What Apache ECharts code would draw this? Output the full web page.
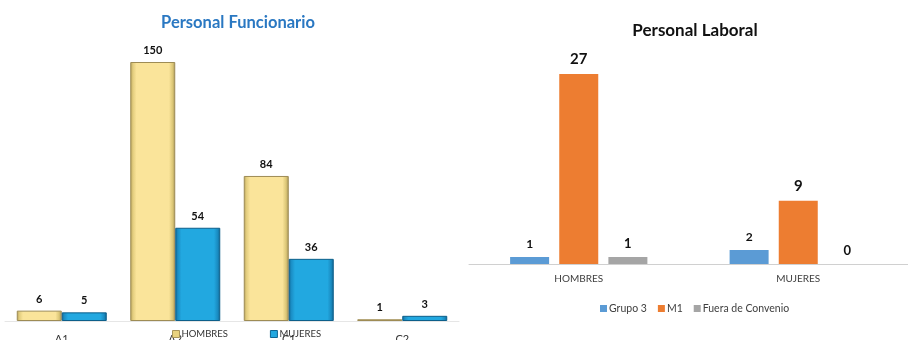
<!DOCTYPE html>
<html><head><meta charset="utf-8">
<script src="https://cdn.jsdelivr.net/npm/echarts@6/dist/echarts.min.js"></script>
<style>html,body{margin:0;padding:0;background:#fff}#c{width:908px;height:340px}</style>
</head><body><div id="c"></div>
<script>
// Left chart: Personal Funcionario
const funcCategories = ['A1', 'A2', 'C1', 'C2'];
const funcHombres = [6, 150, 84, 1];
const funcMujeres = [5, 54, 36, 3];
// Right chart: Personal Laboral
const labCategories = ['HOMBRES', 'MUJERES'];
const labGrupo3 = [1, 2];
const labM1 = [27, 9];
const labFuera = [1, 0];

const FONT = 'Lato, "Open Sans", sans-serif';
const yellowFill = {type:'linear',x:0,y:0,x2:1,y2:0,colorStops:[
  {offset:0,color:'#B3A05A'},{offset:0.06,color:'#E3CD7E'},{offset:0.14,color:'#FAE49A'},
  {offset:0.86,color:'#FAE49A'},{offset:0.94,color:'#DCC777'},{offset:1,color:'#A8955A'}]};
const blueFill = {type:'linear',x:0,y:0,x2:1,y2:0,colorStops:[
  {offset:0,color:'#0F6A99'},{offset:0.06,color:'#1B8FC6'},{offset:0.14,color:'#22A8E0'},
  {offset:0.86,color:'#22A8E0'},{offset:0.94,color:'#1A8CC2'},{offset:1,color:'#0E6693'}]};

const chart = echarts.init(document.getElementById('c'), null, {renderer:'canvas'});
chart.setOption({
  animation:false,
  title:[
    {text:'Personal Funcionario', left:233, top:9, textAlign:'center',
     textStyle:{fontFamily:FONT, fontSize:16.5, fontWeight:'bold', color:'#2A78C2'}},
    {text:'Personal Laboral', left:690, top:17, textAlign:'center',
     textStyle:{fontFamily:FONT, fontSize:17, fontWeight:'bold', color:'#111'}}
  ],
  legend:[
    {data:[{name:'HOMBRES',itemStyle:{color:'#E8D27F', borderColor:'#A8955A', borderWidth:1}},
           {name:'MUJERES',itemStyle:{color:'#22A8E0', borderColor:'#0E6693', borderWidth:1}}],
     left:167, top:324, itemWidth:7, itemHeight:7, itemGap:42, icon:'rect',
     textStyle:{fontFamily:FONT, fontSize:9.5, color:'#333', padding:[0,0,0,-3]}},
    {data:['Grupo 3','M1','Fuera de Convenio'],
     left:595, top:298, itemWidth:7, itemHeight:7, itemGap:11, icon:'rect',
     textStyle:{fontFamily:FONT, fontSize:10.5, color:'#404040', padding:[0,0,0,-3]}}
  ],
  grid:[
    {left:5, right:449, top:62, bottom:19, outerBoundsMode:'none', containLabel:false},
    {left:469, right:0, top:74, bottom:76, outerBoundsMode:'none', containLabel:false}
  ],
  xAxis:[
    {type:'category', gridIndex:0, data:funcCategories,
     axisLine:{lineStyle:{color:'#e6e6e6'}}, axisTick:{show:false},
     axisLabel:{fontFamily:FONT, fontSize:11, color:'#333', margin:13}},
    {type:'category', gridIndex:1, data:labCategories,
     axisLine:{lineStyle:{color:'#d0d0d0'}}, axisTick:{show:false},
     axisLabel:{fontFamily:FONT, fontSize:10, color:'#404040', margin:10}}
  ],
  yAxis:[
    {type:'value', gridIndex:0, min:0, max:150, show:false, splitLine:{show:false}},
    {type:'value', gridIndex:1, min:0, max:27, show:false, splitLine:{show:false}}
  ],
  series:[
    {name:'HOMBRES', type:'bar', xAxisIndex:0, yAxisIndex:0, data:funcHombres,
     barWidth:45, barGap:'0%',
     itemStyle:{color:yellowFill, borderColor:'#9E8C55', borderWidth:1},
     label:{show:true, position:'top', distance:6, fontFamily:FONT, fontSize:11, fontWeight:'bold', color:'#111'}},
    {name:'MUJERES', type:'bar', xAxisIndex:0, yAxisIndex:0, data:funcMujeres,
     barWidth:45, barGap:'0%',
     itemStyle:{color:blueFill, borderColor:'#0D5F8A', borderWidth:1},
     label:{show:true, position:'top', distance:6, fontFamily:FONT, fontSize:11, fontWeight:'bold', color:'#111'}},
    {name:'Grupo 3', type:'bar', xAxisIndex:1, yAxisIndex:1, data:labGrupo3,
     barWidth:39, barGap:'26%', itemStyle:{color:'#5B9BD5'},
     label:{show:true, position:'top', distance:7, fontFamily:FONT, fontSize:12, fontWeight:'bold', color:'#111'}},
    {name:'M1', type:'bar', xAxisIndex:1, yAxisIndex:1, data:labM1,
     barWidth:39, barGap:'26%', itemStyle:{color:'#ED7D31'},
     label:{show:true, position:'top', distance:7, fontFamily:FONT, fontSize:15, fontWeight:'bold', color:'#111'}},
    {name:'Fuera de Convenio', type:'bar', xAxisIndex:1, yAxisIndex:1, data:labFuera,
     barWidth:39, barGap:'26%', itemStyle:{color:'#A5A5A5'},
     label:{show:true, position:'top', distance:7, fontFamily:FONT, fontSize:13, fontWeight:'bold', color:'#111'}}
  ]
});
</script></body></html>
